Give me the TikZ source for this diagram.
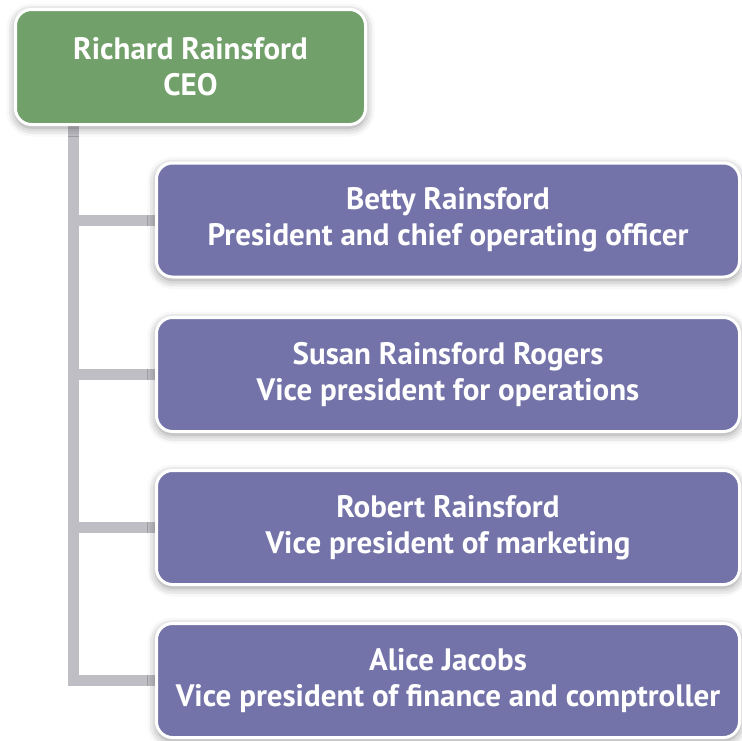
\documentclass[tikz,border=0pt]{standalone}
\usepackage{fontspec}
\setmainfont{PT Sans}
\usetikzlibrary{shadows.blur,backgrounds}
\definecolor{ceogreen}{RGB}{114,160,106}
\definecolor{vppurple}{RGB}{115,115,169}
\definecolor{linegray}{RGB}{190,190,196}
\tikzset{
  orgbox/.style={draw=white, line width=3pt, rounded corners=16pt, align=center,
    text=white, font=\fontsize{31}{36}\selectfont\bfseries, inner sep=0pt,
    blur shadow={shadow xshift=0pt, shadow yshift=-3pt, shadow blur radius=9pt, shadow opacity=45}},
  ceobox/.style={orgbox, fill=ceogreen, minimum width=350pt, minimum height=115pt},
  vpbox/.style={orgbox, fill=vppurple, minimum width=583pt, minimum height=114pt},
  connector/.style={draw=linegray, line width=11pt}
}
\begin{document}
\begin{tikzpicture}[x=1pt,y=-1pt]
\useasboundingbox (0,0) rectangle (742,740);
\node[ceobox] (ceo) at (190.5,67) {Richard Rainsford\\CEO};
\node[vpbox] (b1) at (448,220) {Betty Rainsford\\President and chief operating officer};
\node[vpbox] (b2) at (448,374.5) {Susan Rainsford Rogers\\Vice president for operations};
\node[vpbox] (b3) at (448,527.5) {Robert Rainsford\\Vice president of marketing};
\node[vpbox] (b4) at (448,680.5) {Alice Jacobs\\Vice president of finance and comptroller};
\coordinate (trunk) at (73.5,0);
\begin{scope}[on background layer]
\draw[connector] (ceo.south -| trunk) |- (b4.west);
\draw[connector] (trunk |- b1.west) -- (b1.west);
\draw[connector] (trunk |- b2.west) -- (b2.west);
\draw[connector] (trunk |- b3.west) -- (b3.west);
\end{scope}
\end{tikzpicture}
\end{document}
